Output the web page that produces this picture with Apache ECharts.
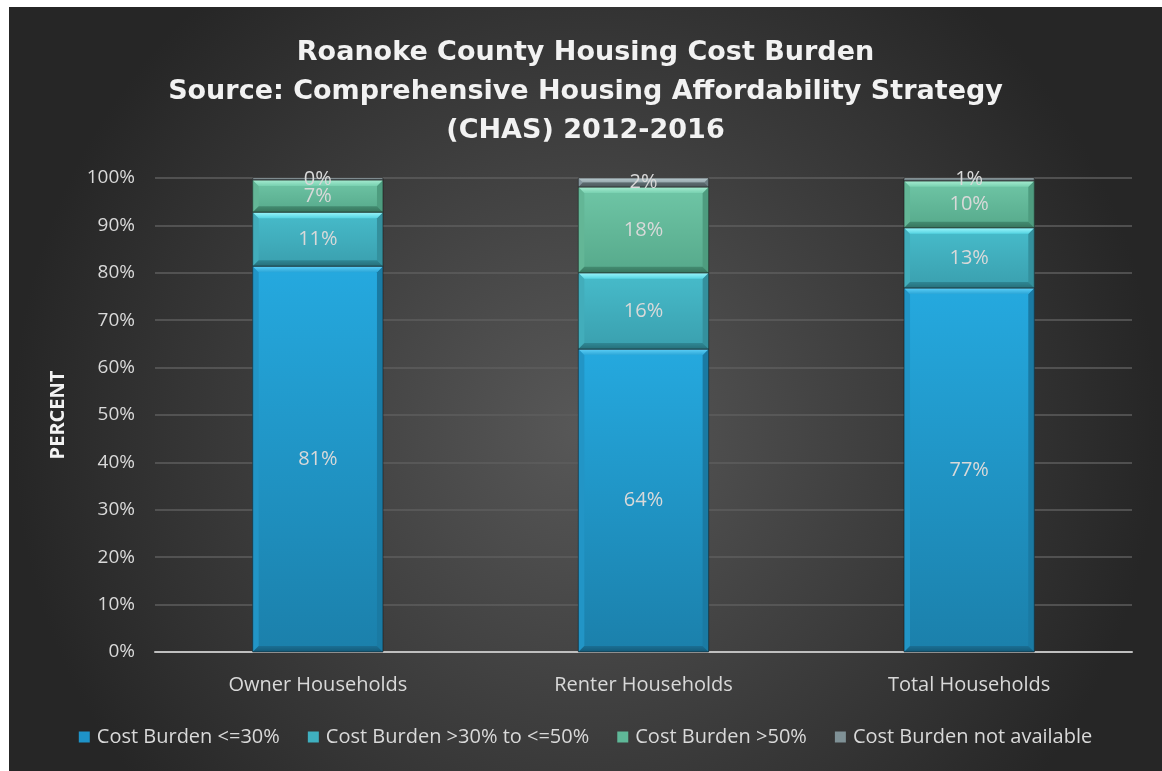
<!DOCTYPE html>
<html>
<head>
<meta charset="utf-8">
<script src="https://cdn.jsdelivr.net/npm/echarts@6/dist/echarts.min.js"></script>
<style>
  html, body { margin: 0; padding: 0; background: #ffffff; }
  #chart { position: absolute; left: 9px; top: 7px; width: 1153px; height: 764px; }
</style>
</head>
<body>
<div id="chart"></div>
<script>
// Housing cost burden shares (percent of households)
const categories = ['Owner Households', 'Renter Households', 'Total Households'];
const seriesNames = ['Cost Burden <=30%', 'Cost Burden >30% to <=50%', 'Cost Burden >50%', 'Cost Burden not available'];
const burdenUpTo30 = [81.4, 63.9, 76.8];
const burden30to50 = [11.4, 16.1, 12.7];
const burdenOver50 = [6.8, 18.1, 9.9];
const burdenNA = [0.4, 1.9, 0.6];
const yTicks = [0, 10, 20, 30, 40, 50, 60, 70, 80, 90, 100];

const valueSets = [burdenUpTo30, burden30to50, burdenOver50, burdenNA];

// Bevel palettes: face top/bottom, top edge, bottom edge, left, right
const palettes = [
  { face: ['#25a9df', '#1b80ab'], top: ['#5fd0f7', '#2aa6d8'], bottom: ['#1a6f94', '#145a78'], left: '#2295c6', right: '#1a7aa3', legend: '#1e93c8' },
  { face: ['#47bccb', '#3a9fae'], top: ['#9cf6fb', '#55d4e2'], bottom: ['#2f8794', '#266f7a'], left: '#42adbb', right: '#34909d', legend: '#3fb0c0' },
  { face: ['#6fc6a6', '#56a98b'], top: ['#a7ecd1', '#78d1b0'], bottom: ['#438c71', '#37745d'], left: '#63b696', right: '#4e9c7f', legend: '#5fb898' },
  { face: ['#8ea0a5', '#748489'], top: ['#b9c9ce', '#97a9ae'], bottom: ['#5d6b70', '#4e5a5e'], left: '#8597a0', right: '#6d7d82', legend: '#7f9196' }
];

// Stack segments: each item is [categoryIndex, start, end, value]
const stacked = valueSets.map(() => []);
categories.forEach((c, ci) => {
  let base = 0;
  valueSets.forEach((vals, si) => {
    stacked[si].push([ci, base, base + vals[ci], vals[ci]]);
    base += vals[ci];
  });
});

function vgrad(a, b) {
  return { type: 'linear', x: 0, y: 0, x2: 0, y2: 1, colorStops: [{ offset: 0, color: a }, { offset: 1, color: b }] };
}

function makeRender(si) {
  const pal = palettes[si];
  return function (params, api) {
    const ci = api.value(0);
    const p1 = api.coord([ci, api.value(2)]);
    const p0 = api.coord([ci, api.value(1)]);
    const bw = api.size([1, 0])[0] * 0.4;
    const L = p1[0] - bw / 2, R = L + bw, T = p1[1], B = p0[1];
    const h = B - T;
    const b = Math.max(0, Math.min(6, h / 2));
    const children = [
      { type: 'rect', shape: { x: L, y: T, width: bw, height: h }, style: { fill: vgrad(pal.face[0], pal.face[1]) } },
      { type: 'polygon', shape: { points: [[L, T], [L + b, T + b], [L + b, B - b], [L, B]] }, style: { fill: pal.left } },
      { type: 'polygon', shape: { points: [[R, T], [R - b, T + b], [R - b, B - b], [R, B]] }, style: { fill: pal.right } },
      { type: 'polygon', shape: { points: [[L, T], [R, T], [R - b, T + b], [L + b, T + b]] }, style: { fill: vgrad(pal.top[0], pal.top[1]) } },
      { type: 'polygon', shape: { points: [[L, B], [R, B], [R - b, B - b], [L + b, B - b]] }, style: { fill: vgrad(pal.bottom[0], pal.bottom[1]) } },
      { type: 'rect', shape: { x: L, y: T, width: bw, height: h }, style: { fill: 'none', stroke: 'rgba(20,20,20,0.55)', lineWidth: 1 } },
      { type: 'text', style: { text: Math.round(api.value(3)) + '%', x: (L + R) / 2, y: (T + B) / 2, align: 'center', verticalAlign: 'middle', fill: '#d9d9d9', font: '20px "Open Sans"' }, z2: 10 }
    ];
    return { type: 'group', children: children };
  };
}

const chart = echarts.init(document.getElementById('chart'), null, { renderer: 'canvas' });

chart.setOption({
  backgroundColor: {
    type: 'radial', x: 0.5, y: 0.55, r: 0.75,
    colorStops: [{ offset: 0, color: '#585858' }, { offset: 1, color: '#262626' }]
  },
  animation: false,
  title: {
    text: 'Roanoke County Housing Cost Burden\nSource: Comprehensive Housing Affordability Strategy\n(CHAS) 2012-2016',
    left: 'center',
    top: 21,
    textStyle: { color: '#f2f2f2', fontFamily: 'DejaVu Sans', fontWeight: 'bold', fontSize: 27, lineHeight: 39 }
  },
  legend: {
    data: seriesNames,
    bottom: 19,
    left: 'center',
    itemWidth: 11,
    itemHeight: 11,
    itemGap: 28,
    icon: 'rect',
    textStyle: { color: '#d9d9d9', fontFamily: 'Open Sans', fontSize: 20, padding: [0, 0, 0, 2] }
  },
  grid: { left: 146, right: 30, top: 171, bottom: 119 },
  xAxis: {
    type: 'category',
    data: categories,
    axisLine: { lineStyle: { color: '#bfbfbf', width: 2 } },
    axisTick: { show: false },
    axisLabel: { color: '#d9d9d9', fontFamily: 'Open Sans', fontSize: 20, margin: 23 }
  },
  yAxis: {
    type: 'value',
    min: yTicks[0],
    max: yTicks[yTicks.length - 1],
    interval: yTicks[1] - yTicks[0],
    name: 'PERCENT',
    nameLocation: 'middle',
    nameRotate: 90,
    nameGap: 87,
    nameTextStyle: { color: '#f2f2f2', fontFamily: 'Open Sans', fontWeight: 'bold', fontSize: 20 },
    axisLine: { show: false },
    axisTick: { show: false },
    axisLabel: { color: '#d9d9d9', fontFamily: 'Open Sans', fontSize: 19, margin: 20, formatter: '{value}%' },
    splitLine: { lineStyle: { color: '#5e5e5e', width: 1.5 } }
  },
  series: seriesNames.map((name, si) => ({
    name: name,
    type: 'custom',
    renderItem: makeRender(si),
    itemStyle: { color: palettes[si].legend },
    encode: { x: 0, y: [1, 2] },
    data: stacked[si],
    z: 3
  }))
});
</script>
</body>
</html>
